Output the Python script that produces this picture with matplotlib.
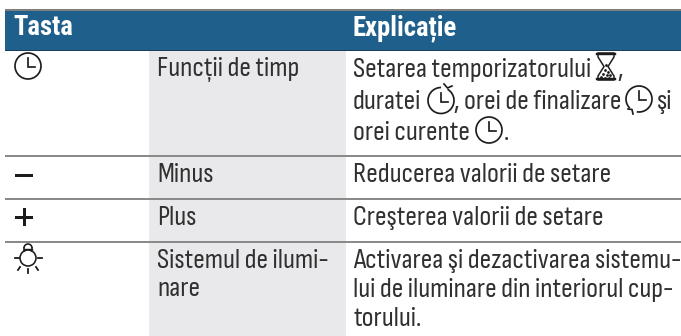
#!/usr/bin/env python3

import matplotlib
matplotlib.use("Agg")
import matplotlib.pyplot as plt
from matplotlib.patches import Rectangle, Circle, Arc, Polygon

headers = ["Tasta", "Explicație"]
functions = ["Funcții de timp", "Minus", "Plus", "Sistemul de ilumi-", "nare"]
explain_time = ["Setarea temporizatorului", ",", "duratei", ", orei de finalizare", "şi",
                "orei curente", "."]
explain_rest = ["Reducerea valorii de setare", "Creşterea valorii de setare",
                "Activarea şi dezactivarea sistemu-", "lui de iluminare din interiorul cup-",
                "torului."]

FONT = ["Sofia Sans Condensed", "Roboto Condensed", "DejaVu Sans"]
HEAD_FONT = ["Roboto Condensed", "DejaVu Sans"]
INK = "#1c1c1c"
TEXT_INK = "#303030"
PX = 0.72  # one pixel in points at dpi 100


def put(ax, x, y, s, size=20.5, weight=300, color=TEXT_INK, family=FONT):
    ax.text(x, y, s, fontsize=size, fontweight=weight, color=color, family=family,
            ha="left", va="baseline")


def hands(ax, cx, cy, lw):
    ax.plot([cx, cx, cx + 7], [cy - 8, cy + 1, cy + 1], color=INK, lw=lw * PX,
            solid_joinstyle="miter")


def clock(ax, cx, cy, r=13, lw=1.7):
    ax.add_patch(Circle((cx, cy), r, fill=False, ec=INK, lw=lw * PX))
    hands(ax, cx, cy, lw)


def clock_open(ax, cx, cy, start, end, head, r=13, lw=1.7):
    # y axis is flipped, so Arc angles run clockwise on screen
    ax.add_patch(Arc((cx, cy), 2 * r, 2 * r, theta1=start, theta2=end, ec=INK, lw=lw * PX))
    hands(ax, cx, cy, lw)
    ax.plot([p[0] for p in head], [p[1] for p in head], color=INK, lw=lw * PX)


def hourglass(ax, x0, x1, y0, y1):
    cx = (x0 + x1) / 2
    cy = (y0 + y1) / 2
    ax.plot([x0, x1], [y0 + 1, y0 + 1], color=INK, lw=2.4 * PX)
    ax.plot([x0, x1], [y1 - 1, y1 - 1], color=INK, lw=2.4 * PX)
    ax.add_patch(Polygon([(x0 + 1, y0), (x1 - 1, y0), (x1 - 1, y0 + 4), (cx + 2, cy),
                          (x1 - 1, y1 - 4), (x1 - 1, y1), (x0 + 1, y1), (x0 + 1, y1 - 4),
                          (cx - 2, cy), (x0 + 1, y0 + 4)], closed=True, fill=False,
                         ec=INK, lw=1.5 * PX))
    sx = [cx, cx - 1, cx + 2, cx - 3, cx + 1, cx + 4, cx - 5, cx - 1, cx + 3]
    sy = [cy - 2, cy + 3, cy + 5, cy + 7, cy + 8, cy + 8, cy + 10, cy + 11, cy + 11]
    ax.scatter(sx, sy, s=4, color=INK, linewidths=0)


def bulb(ax, cx, cy):
    ax.add_patch(Circle((cx, cy), 8, fill=False, ec=INK, lw=1.6 * PX))
    ax.add_patch(Arc((cx, cy - 10), 8, 8, theta1=180, theta2=360, ec=INK, lw=1.6 * PX))
    ax.plot([cx - 4, cx - 4], [cy - 10, cy - 7], color=INK, lw=1.6 * PX)
    ax.plot([cx + 4, cx + 4], [cy - 10, cy - 7], color=INK, lw=1.6 * PX)
    ax.plot([cx - 4, cx + 4], [cy - 9, cy - 9], color=INK, lw=1.4 * PX)
    for x0, y0, x1, y1 in [(-13, 0, -9.5, 0), (10, 0, 14, 0), (0, 11, 0, 15),
                           (-8, 9, -10, 12), (8, 9, 10, 12)]:
        ax.plot([cx + x0, cx + x1], [cy + y0, cy + y1], color=INK, lw=1.8 * PX)


fig = plt.figure(figsize=(6.81, 3.36), dpi=100)
ax = fig.add_axes([0, 0, 1, 1])
ax.set_xlim(0, 681)
ax.set_ylim(336, 0)
ax.axis("off")

# table background
ax.add_patch(Rectangle((149, 50), 197, 286, color="#e9e9eb", lw=0))
ax.add_patch(Rectangle((5, 9), 676, 2, color="#7f7f7f", lw=0))
ax.add_patch(Rectangle((5, 11), 676, 39, color="#1f5f8b", lw=0))
ax.add_patch(Rectangle((5, 49.5), 676, 1.2, color="#1b3f5a", lw=0))
for y in [156, 199, 242]:
    ax.add_patch(Rectangle((5, y - 1), 676, 2, color="#8a8a8a", lw=0))

# header
put(ax, 13, 35, headers[0], size=19.2, weight="bold", color="white", family=HEAD_FONT)
put(ax, 353, 35, headers[1], size=19.2, weight="bold", color="white", family=HEAD_FONT)

# middle column
put(ax, 157, 76, functions[0])
put(ax, 157, 182, functions[1])
put(ax, 157, 225, functions[2])
put(ax, 157, 268, functions[3])
put(ax, 157, 296, functions[4])

# right column, first row has inline symbols
put(ax, 353, 77, explain_time[0])
hourglass(ax, 597, 615, 53, 80)
put(ax, 617, 77, explain_time[1])
put(ax, 353, 109, explain_time[2])
clock_open(ax, 441, 100.5, -60, 270, [(444, 84), (447.5, 88), (452, 86)])
put(ax, 454, 109, explain_time[3])
clock_open(ax, 639, 99, 135, 460, [(628, 109), (632, 109.5), (633, 114)])
put(ax, 657, 109, explain_time[4])
put(ax, 353, 140, explain_time[5])
clock(ax, 489, 130)
put(ax, 504, 140, explain_time[6])

put(ax, 353, 182, explain_rest[0])
put(ax, 353, 225, explain_rest[1])
put(ax, 353, 268, explain_rest[2])
put(ax, 353, 297, explain_rest[3])
put(ax, 353, 326, explain_rest[4])

# key symbols
clock(ax, 28, 66)
ax.add_patch(Rectangle((15, 174), 18, 3, color=INK, lw=0))
ax.add_patch(Rectangle((15, 215.5), 18, 3, color=INK, lw=0))
ax.add_patch(Rectangle((22.5, 208), 3, 18, color=INK, lw=0))
bulb(ax, 28, 258)

plt.savefig("out.png", dpi=100)
